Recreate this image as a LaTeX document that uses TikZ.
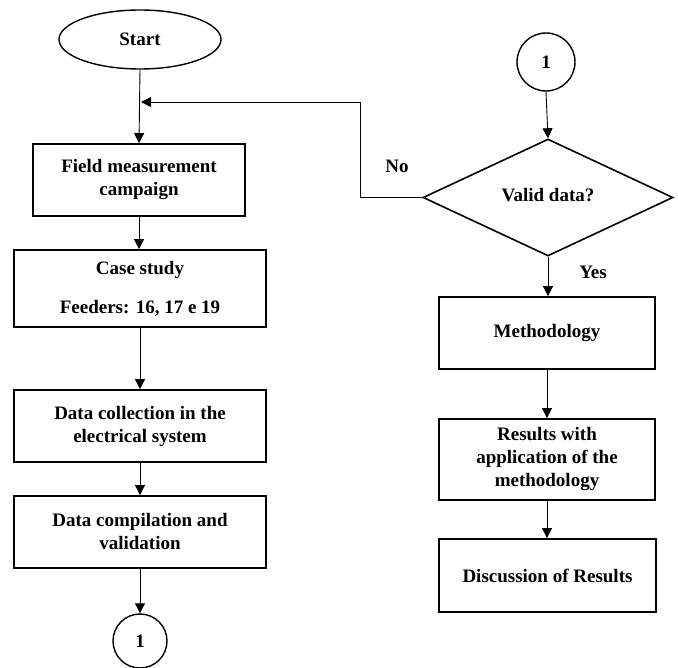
\documentclass[tikz,border=0pt]{standalone}
\usepackage{fontspec}
\setmainfont{Liberation Serif}
\usetikzlibrary{shapes.geometric,arrows.meta}
\begin{document}
\begin{tikzpicture}[x=1pt,y=1pt,
  every node/.style={font=\fontsize{19}{23}\selectfont\bfseries},
  procbox/.style={draw, line width=1.8pt, rectangle, align=center, inner sep=2pt},
  termin/.style={draw, line width=1.4pt, ellipse, inner sep=0pt},
  conn/.style={draw, line width=1.4pt, circle, inner sep=0pt},
  decis/.style={draw, line width=1.6pt, diamond, aspect=2.14, inner sep=0pt},
  flow/.style={line width=0.9pt, -{Triangle[length=10pt,width=10pt]}},
  plainline/.style={line width=0.9pt}]
\useasboundingbox (0,0) rectangle (678,-668);
% left column
\node[termin, minimum width=162pt, minimum height=59pt] (start) at (140,-39.5) {Start};
\node[procbox, minimum width=212pt, minimum height=72pt] (field) at (139,-180) {Field measurement\\campaign};
\node[procbox, minimum width=252pt, minimum height=77pt] (case) at (140,-288.5) {\raisebox{-3pt}{Case study}\\[16pt]\raisebox{-3pt}{Feeders: 16, 17 e 19}};
\node[procbox, minimum width=252pt, minimum height=72pt] (collect) at (140,-426) {Data collection in the\\electrical system};
\node[procbox, minimum width=252pt, minimum height=72pt] (compile) at (140,-532) {Data compilation and\\validation};
\node[conn, minimum size=54pt] (c1) at (140,-641) {1};
% right column
\node[conn, minimum size=58pt] (c2) at (546,-62) {1};
\node[decis, minimum width=250pt, minimum height=117pt] (valid) at (548,-197.5) {\raisebox{6pt}{Valid data?}};
\node[procbox, minimum width=216pt, minimum height=72pt] (meth) at (547,-333) {Methodology};
\node[procbox, minimum width=216pt, minimum height=81pt] (res) at (547,-459.5) {Results with\\application of the\\methodology};
\node[procbox, minimum width=217pt, minimum height=73pt] (disc) at (547.5,-575.5) {Discussion of Results};
% labels
\node (no) at (397,-166) {No};
\node (yes) at (593,-272) {Yes};
% connectors
\draw[flow] (start.south) -- (field.north);
\draw[flow] (field.south) -- (field.south |- case.north);
\draw[flow] (case.south) -- (collect.north);
\draw[flow] (collect.south) -- (compile.north);
\draw[flow] (compile.south) -- (c1.north);
\draw[flow] (c2.south) -- (valid.north);
\draw[flow] (valid.south) -- (valid.south |- meth.north);
\draw[flow] (meth.south) -- (meth.south |- res.north);
\draw[flow] (res.south) -- (res.south |- disc.north);
\coordinate (fbcorner) at (360,-102);
\coordinate (fbend) at (141,-102);
\draw[plainline] (valid.west) -| (fbcorner);
\draw[flow] (fbcorner) -- (fbend);
\end{tikzpicture}
\end{document}
